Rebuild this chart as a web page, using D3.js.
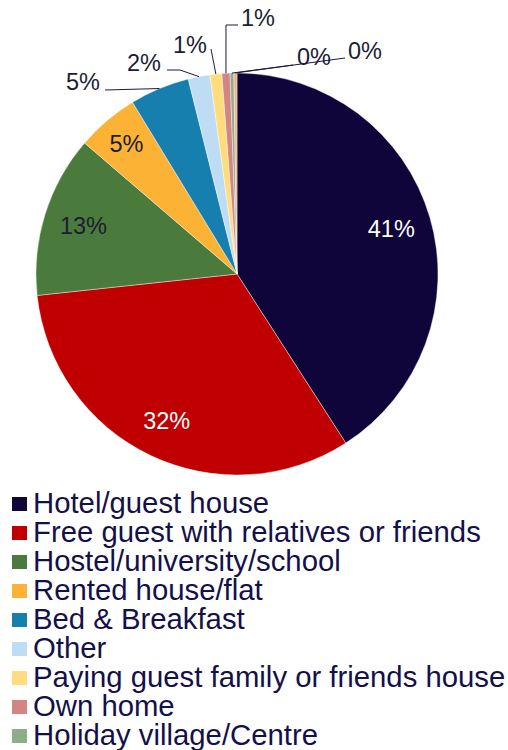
<!DOCTYPE html>
<html>
<head>
<meta charset="utf-8">
<script src="https://cdn.jsdelivr.net/npm/d3@7"></script>
<style>
  body { margin: 0; background: #fff; }
  svg { display: block; font-family: "Liberation Sans", Arial, sans-serif; }
</style>
</head>
<body>
<div id="chart"></div>
<script>
// accommodation types, share of respondents (%)
var categories = ["Hotel/guest house", "Free guest with relatives or friends", "Hostel/university/school",
  "Rented house/flat", "Bed & Breakfast", "Other", "Paying guest family or friends house",
  "Own home", "Holiday village/Centre", "Camping"];
var values = [40.9, 32.4, 13.0, 5.0, 4.8, 1.75, 0.95, 0.65, 0.3, 0.25];
var colors = ["#10053a", "#c00000", "#4a7a3c", "#fbb235", "#177fad", "#bfdcf5", "#ffdc7c", "#d38584", "#8fad8b", "#f4b183"];

window.onload = function() {
  var width = 508, height = 750;
  var cx = 237, cy = 274, radius = 201;

  var svg = d3.select("#chart").append("svg")
    .attr("width", width)
    .attr("height", height);

  var g = svg.append("g").attr("transform", "translate(" + cx + "," + cy + ")");

  var data = categories.map(function(c, i) { return {name: c, value: values[i], color: colors[i]}; });

  var pie = d3.pie().sort(null).value(function(d) { return d.value; });
  var arc = d3.arc().innerRadius(0).outerRadius(radius);
  var arcs = pie(data);

  g.selectAll("path.slice")
    .data(arcs)
    .enter().append("path")
      .attr("class", "slice")
      .attr("d", arc)
      .attr("fill", function(d) { return d.data.color; })
      .attr("stroke", "#fff")
      .attr("stroke-width", 0.4);

  function pct(d) { return Math.round(d.data.value) + "%"; }

  // labels inside the big slices
  var inner = [
    {i: 0, r: 0.80, fill: "#fff"},
    {i: 1, r: 0.81, fill: "#fff"},
    {i: 2, r: 0.80, fill: "#1b1d33"},
    {i: 3, r: 0.85, fill: "#1b1d33"}
  ];
  inner.forEach(function(o) {
    var a = arcs[o.i];
    var p = d3.arc().innerRadius(radius * o.r).outerRadius(radius * o.r).centroid(a);
    g.append("text")
      .attr("x", p[0]).attr("y", p[1])
      .attr("text-anchor", "middle")
      .attr("dy", "0.35em")
      .style("font-size", "23.5px")
      .attr("fill", o.fill)
      .text(pct(a));
  });

  // outside labels with leader lines (text centre and line points relative to the pie centre)
  var outer = [
    {i: 4, tx: -154, ty: -192, pts: [[-132, -184]]},
    {i: 5, tx: -93, ty: -211, pts: [[-57, -204], [-70, -204]]},
    {i: 6, tx: -47, ty: -229, pts: [[-26, -225]]},
    {i: 7, tx: 21, ty: -256, pts: [[-11, -249], [1, -249]]},
    {i: 8, tx: 77, ty: -217, pts: [[56, -209]]},
    {i: 9, tx: 128, ty: -223, pts: [[108, -216]]}
  ];
  var edge = d3.arc().innerRadius(radius).outerRadius(radius);
  outer.forEach(function(o) {
    var a = arcs[o.i];
    var pts = [edge.centroid(a)].concat(o.pts);
    g.append("path")
      .attr("d", d3.line()(pts))
      .attr("fill", "none")
      .attr("stroke", "#1c1848")
      .attr("stroke-width", 1);
    g.append("text")
      .attr("x", o.tx).attr("y", o.ty)
      .attr("text-anchor", "middle")
      .attr("dy", "0.35em")
      .style("font-size", "23.5px")
      .attr("fill", "#1b1d33")
      .text(pct(a));
  });

  // legend
  var legend = svg.append("g").attr("transform", "translate(12,497)");
  var row = legend.selectAll("g")
    .data(data)
    .enter().append("g")
      .attr("transform", function(d, i) { return "translate(0," + (i * 29) + ")"; });
  row.append("rect")
    .attr("width", 15).attr("height", 14)
    .attr("fill", function(d) { return d.color; });
  row.append("text")
    .attr("x", 21).attr("y", 16)
    .style("font-size", "29.3px")
    .attr("fill", "#13104a")
    .text(function(d) { return d.name; });
};
</script>
</body>
</html>
